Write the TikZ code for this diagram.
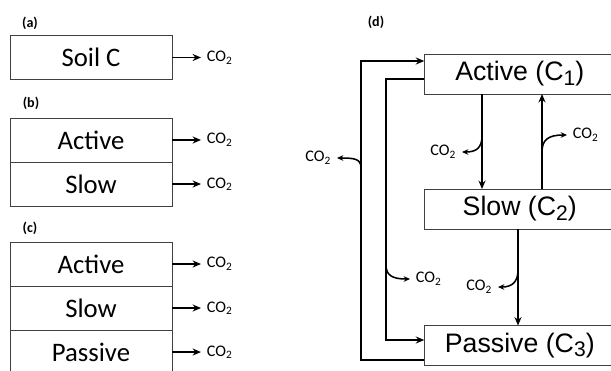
\documentclass[tikz,border=0pt]{standalone}
\usepackage{fontspec}
\setmainfont{Carlito}
\newfontfamily\arialfont{Liberation Sans}
\usetikzlibrary{arrows.meta}
\tikzset{>={Stealth[length=6pt,width=5pt]}}
\newcommand{\lowidx}[1]{\raisebox{-0.3ex}{\fontsize{15}{15}\selectfont #1}}
\newcommand{\cotwo}{CO\textsubscript{2}}

\begin{document}
\begin{tikzpicture}[x=0.025cm,y=-0.025cm,
  pool/.style={draw=black!75,line width=0.6pt,inner sep=0pt,outer sep=0pt,
    minimum width=4.05cm,minimum height=1.1cm,font=\fontsize{19}{22}\selectfont},
  bigpool/.style={draw=black!75,line width=0.6pt,inner sep=0pt,outer sep=0pt,
    minimum width=4.775cm,minimum height=1cm,font=\arialfont\fontsize{19}{22}\selectfont},
  gas/.style={font=\fontsize{11.5}{13}\selectfont,inner sep=4pt},
  tag/.style={font=\bfseries\fontsize{10}{12}\selectfont},
  flow/.style={->,line width=1.3pt},
  loss/.style={-{Stealth[length=4.5pt,width=4pt]},line width=1.1pt}]

  \useasboundingbox (0,0) rectangle (611,370);

  % 单库模型 (a)
  \node[tag] (taga) at (30,23) {(a)};
  \node[pool] (soil) at (91,57.5) {Soil C};

  % 双库模型 (b)
  \node[tag] (tagb) at (31,103) {(b)};
  \node[pool] (bact) at (91,140) {Active};
  \node[pool,anchor=north] (bslow) at (bact.south) {Slow};

  % 三库模型 (c)
  \node[tag] (tagc) at (30,228) {(c)};
  \node[pool] (cact) at (91,264) {Active};
  \node[pool,anchor=north] (cslow) at (cact.south) {Slow};
  \node[pool,anchor=north] (cpas) at (cslow.south) {Passive};

  % 呼吸输出
  \foreach \n in {soil,bact,bslow,cact,cslow,cpas} {
    \node[gas,anchor=west] (g\n) at ([xshift=0.725cm]\n.east) {\cotwo};
    \draw[flow] (\n.east) -- (g\n.west);
  }

  % 三库转移模型 (d)
  \node[tag] (tagd) at (376,22) {(d)};
  \node[bigpool] (act) at (519.75,74) {Active (C\lowidx{1})};
  \node[bigpool] (slw) at (519.75,209) {Slow (C\lowidx{2})};
  \node[bigpool] (pas) at (519.75,345.5) {Passive (C\lowidx{3})};

  % 坐标点定义
  \coordinate (down1) at (482,0);
  \coordinate (up1) at (542,0);
  \coordinate (down2) at (518,0);
  \coordinate (otop) at (361,61);
  \coordinate (obot) at (361,360);
  \coordinate (itop) at (386,79);
  \coordinate (ibot) at (386,340);

  % 库间转移
  \draw[flow] (act.south -| down1) -- (slw.north -| down1);
  \draw[flow] (slw.north -| up1) -- (act.south -| up1);
  \draw[flow] (slw.south -| down2) -- (pas.north -| down2);
  \draw[flow] (pas.west |- obot) -- (obot) -- (otop) -- (act.west |- otop);
  \draw[flow] (act.west |- itop) -- (itop) -- (ibot) -- (pas.west |- ibot);

  % 分支点
  \coordinate (b1) at (482,136);
  \coordinate (b2) at (542,152);
  \coordinate (b3) at (361,168);
  \coordinate (b4) at (386,265);
  \coordinate (b5) at (518,270);

  % CO2 损失
  \node[gas,anchor=east] (g1) at (462,152) {\cotwo};
  \node[gas,anchor=west] (g2) at (567,135) {\cotwo};
  \node[gas,anchor=east] (g3) at (337,158) {\cotwo};
  \node[gas,anchor=west] (g4) at (410,279) {\cotwo};
  \node[gas,anchor=east] (g5) at (498,287) {\cotwo};

  \draw[loss] (b1) .. controls (482,148) and (476,152) .. (g1.east);
  \draw[loss] (b2) .. controls (542,140) and (548,135) .. (g2.west);
  \draw[loss] (b3) .. controls (361,159) and (355,158) .. (g3.east);
  \draw[loss] (b4) .. controls (386,275) and (392,279) .. (g4.west);
  \draw[loss] (b5) .. controls (518,282) and (512,287) .. (g5.east);
\end{tikzpicture}
\end{document}
